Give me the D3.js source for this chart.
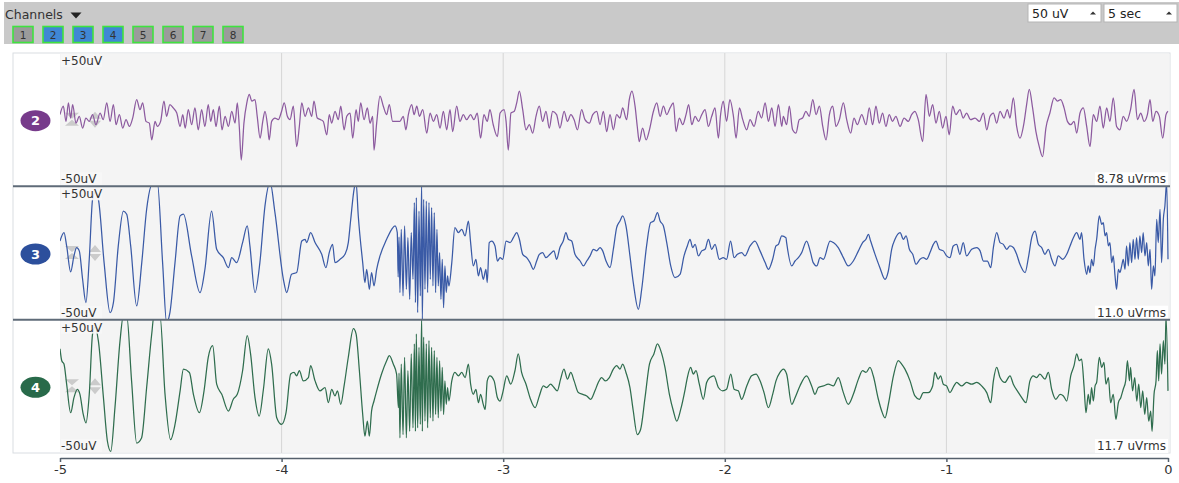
<!DOCTYPE html>
<html>
<head>
<meta charset="utf-8">
<script src="https://cdn.jsdelivr.net/npm/d3@7"></script>
<style>
  html, body { margin: 0; padding: 0; background: #ffffff; }
  svg { display: block; font-family: "DejaVu Sans", "Open Sans", sans-serif; }
</style>
</head>
<body>
<svg id="chart" width="1179" height="483"></svg>
<script>
// ---- data ---------------------------------------------------------------
const toggleChannels = [1, 2, 3, 4, 5, 6, 7, 8];
const activeChannels = [2, 3, 4];
const scaleOptions = ["50 uV", "5 sec"];
const channelIds = [2, 3, 4];
const rmsLabels = ["8.78 uVrms", "11.0 uVrms", "11.7 uVrms"];
const xTicks = [-5, -4, -3, -2, -1, 0];
const yRange = [-50, 50];

// [time (s), amplitude (uV)]
const ch2 = [
[-5.000,3.8],[-4.985,10.1],[-4.973,-1.3],[-4.962,12.6],[-4.952,1.2],[-4.943,11.3],[-4.928,-2.6],[-4.913,2.5],[-4.898,-6.3],[-4.883,1.2],[-4.868,-1.3],[-4.853,3.8],[-4.838,-3.8],[-4.819,5.0],[-4.805,0],[-4.789,12.6],[-4.774,-1.3],[-4.759,11.3],[-4.747,-3.8],[-4.732,3.8],[-4.717,-6.3],[-4.702,0],[-4.687,-5.1],[-4.672,1.2],[-4.654,15.1],[-4.639,7.5],[-4.627,12.6],[-4.612,-1.3],[-4.597,-2.6],[-4.586,-15.2],[-4.571,-1.3],[-4.561,-5.1],[-4.546,-1.3],[-4.531,13.9],[-4.519,2.5],[-4.504,11.3],[-4.489,8.8],[-4.473,5.0],[-4.458,-5.1],[-4.446,3.8],[-4.435,-6.3],[-4.421,7.5],[-4.406,-3.8],[-4.391,8.8],[-4.376,-7.6],[-4.361,7.5],[-4.346,-5.1],[-4.331,11.3],[-4.320,-1.3],[-4.308,7.5],[-4.296,-5.1],[-4.281,10.1],[-4.269,-7.6],[-4.255,2.5],[-4.240,-5.1],[-4.225,6.3],[-4.210,-2.6],[-4.200,12.6],[-4.191,-5.1],[-4.182,-30.3],[-4.170,-2.6],[-4.157,12.6],[-4.146,18.9],[-4.134,13.9],[-4.120,15.1],[-4.110,2.5],[-4.097,-13.9],[-4.085,-1.3],[-4.075,6.3],[-4.063,-5.1],[-4.056,-15.2],[-4.045,-1.3],[-4.030,1.2],[-4.015,0],[-4.000,6.3],[-3.988,12.6],[-3.974,2.5],[-3.962,0],[-3.947,10.1],[-3.932,-20.2],[-3.920,-5.1],[-3.909,12.6],[-3.894,2.5],[-3.879,8.8],[-3.864,2.5],[-3.854,13.9],[-3.839,1.2],[-3.824,0],[-3.812,-1.3],[-3.796,-11.4],[-3.785,3.8],[-3.774,-2.6],[-3.759,6.3],[-3.744,0],[-3.733,10.1],[-3.718,-7.6],[-3.706,2.5],[-3.691,5.0],[-3.679,-13.9],[-3.664,7.5],[-3.654,-1.3],[-3.643,12.6],[-3.628,0],[-3.613,8.8],[-3.601,-2.6],[-3.589,2.5],[-3.583,-22.8],[-3.571,-2.6],[-3.556,17.6],[-3.541,10.1],[-3.526,3.8],[-3.514,11.3],[-3.499,-1.3],
[-3.466,-1.3],[-3.451,2.5],[-3.439,-7.6],[-3.428,3.8],[-3.413,11.3],[-3.402,3.8],[-3.390,10.1],[-3.378,2.5],[-3.363,7.5],[-3.345,-10.1],[-3.330,5.0],[-3.315,-1.3],[-3.300,3.8],[-3.285,-6.3],[-3.270,6.3],[-3.255,-7.6],[-3.240,7.5],[-3.228,-8.9],[-3.210,10.1],[-3.195,-1.3],[-3.180,3.8],[-3.165,0],[-3.147,3.8],[-3.132,0],[-3.117,5.0],[-3.102,-13.9],[-3.087,3.8],[-3.072,-1.3],[-3.060,7.5],[-3.045,-3.8],[-3.026,-12.7],[-3.014,5.0],[-2.996,7.5],[-2.987,-1.3],[-2.977,-22.8],[-2.965,5.0],[-2.950,6.3],[-2.939,12.6],[-2.927,21.4],[-2.912,7.5],[-2.897,-7.6],[-2.882,-3.8],[-2.867,-10.1],[-2.852,2.5],[-2.837,10.1],[-2.822,-1.3],[-2.807,6.3],[-2.792,-6.3],[-2.777,6.3],[-2.759,3.8],[-2.744,-6.3],[-2.725,6.3],[-2.710,-1.3],[-2.695,3.8],[-2.680,0],[-2.665,-7.6],[-2.646,7.5],[-2.631,0],[-2.611,-2.6],[-2.596,3.8],[-2.578,6.3],[-2.563,-3.8],[-2.548,6.3],[-2.533,-8.9],[-2.518,3.8],[-2.503,-7.6],[-2.488,3.8],[-2.473,1.2],[-2.461,8.8],[-2.443,0],[-2.431,15.1],[-2.419,21.4],[-2.405,10.1],[-2.395,-5.1],[-2.386,-16.4],[-2.371,-6.3],[-2.355,-15.2],[-2.340,-7.6],[-2.322,6.3],[-2.307,12.6],[-2.292,2.5],[-2.277,10.1],[-2.262,3.8],[-2.247,8.8],[-2.232,12.6],[-2.220,-8.9],[-2.205,1.2],[-2.190,-3.8],[-2.175,3.8],[-2.163,11.3],[-2.149,-3.8],[-2.134,2.5],[-2.119,-1.3],[-2.104,3.8],[-2.089,7.5],[-2.074,-5.1],[-2.059,2.5],[-2.044,8.8],[-2.029,-13.9],[-2.019,3.8],[-2.007,13.9],[-1.992,-1.3],[-1.977,15.1],[-1.961,2.5],[-1.949,-13.9],[-1.934,8.8],[-1.919,0],[-1.901,-7.6],[-1.886,0],[-1.868,-5.1],[-1.849,6.3],[-1.834,1.2],[-1.818,12.6],[-1.803,-1.3],[-1.788,8.8],[-1.773,-5.1],[-1.758,11.3],[-1.743,-5.1],
[-1.736,2.5],[-1.721,-3.8],[-1.709,10.1],[-1.694,-7.6],[-1.679,-10.1],[-1.664,0],[-1.649,1.2],[-1.634,6.3],[-1.619,2.5],[-1.603,15.1],[-1.588,3.8],[-1.573,10.1],[-1.558,-5.1],[-1.543,-15.2],[-1.528,3.8],[-1.513,10.1],[-1.498,-5.1],[-1.483,0],[-1.465,12.6],[-1.450,0],[-1.432,-10.1],[-1.417,1.2],[-1.402,-3.8],[-1.382,3.8],[-1.363,-3.8],[-1.348,8.8],[-1.333,-3.8],[-1.318,10.1],[-1.303,-2.6],[-1.288,5.0],[-1.273,-5.1],[-1.258,3.8],[-1.243,-1.3],[-1.228,2.5],[-1.209,-5.1],[-1.191,1.2],[-1.172,-1.3],[-1.157,3.8],[-1.142,6.3],[-1.127,0],[-1.107,-16.4],[-1.092,18.9],[-1.077,2.5],[-1.062,11.3],[-1.047,-2.6],[-1.032,6.3],[-1.017,-6.3],[-1.002,2.5],[-0.987,-11.4],[-0.972,10.1],[-0.957,3.8],[-0.939,7.5],[-0.924,1.2],[-0.909,5.0],[-0.891,0],[-0.871,1.2],[-0.851,-1.3],[-0.833,5.0],[-0.818,-7.6],[-0.803,2.5],[-0.788,5.0],[-0.773,-2.6],[-0.758,6.3],[-0.740,1.2],[-0.725,7.5],[-0.713,1.2],[-0.698,16.4],[-0.683,-5.1],[-0.668,-13.9],[-0.650,-2.6],[-0.638,11.3],[-0.626,22.7],[-0.611,8.8],[-0.596,-8.9],[-0.581,-20.2],[-0.566,-27.8],[-0.551,-6.3],[-0.533,5.0],[-0.514,16.4],[-0.499,13.9],[-0.484,15.1],[-0.469,8.8],[-0.454,-1.3],[-0.439,-3.8],[-0.424,-1.3],[-0.412,-10.1],[-0.397,5.0],[-0.382,8.8],[-0.367,-5.1],[-0.352,-20.2],[-0.337,3.8],[-0.322,-1.3],[-0.307,10.1],[-0.292,-6.3],[-0.277,8.8],[-0.262,-1.3],[-0.247,16.4],[-0.232,-5.1],[-0.217,-7.6],[-0.202,2.5],[-0.187,-1.3],[-0.169,7.5],[-0.153,22.7],[-0.138,0],[-0.123,5.0],[-0.108,-1.3],[-0.093,3.8],[-0.081,15.1],[-0.069,-1.3],[-0.054,6.3],[-0.039,2.5],[-0.024,-13.9],[-0.009,3.8],[0.000,6.3]
];

const ch3 = [
[-5.000,9.0],[-4.982,15.3],[-4.970,5.3],[-4.952,-14.2],[-4.937,-2.2],[-4.925,4.1],[-4.913,1.6],[-4.898,-19.7],[-4.883,-37.2],[-4.868,-4.7],[-4.853,40.3],[-4.842,45.3],[-4.827,40.3],[-4.801,-7.2],[-4.774,-44.7],[-4.759,-37.2],[-4.737,5.3],[-4.714,31.5],[-4.699,29.1],[-4.681,5.3],[-4.654,-39.7],[-4.631,-7.2],[-4.609,32.8],[-4.579,53],[-4.561,53],[-4.537,-7.2],[-4.519,-52],[-4.504,-44.7],[-4.481,-7.2],[-4.458,27.8],[-4.443,29.1],[-4.406,-2.2],[-4.368,-29.7],[-4.346,-12.2],[-4.316,31.5],[-4.293,2.8],[-4.263,-3.5],[-4.240,-11.0],[-4.225,-3.5],[-4.203,-7.2],[-4.176,7.8],[-4.155,20.3],[-4.143,5.3],[-4.120,-29.7],[-4.098,-7.2],[-4.075,35.3],[-4.052,53],[-4.030,30.3],[-3.992,-19.7],[-3.977,-29.7],[-3.955,-16.0],[-3.932,-14.7],[-3.909,9.0],[-3.894,10.3],[-3.887,7.8],[-3.869,15.3],[-3.849,7.8],[-3.819,-1.0],[-3.800,-11.0],[-3.785,0.3],[-3.770,6.5],[-3.759,-7.2],[-3.736,-4.7],[-3.714,-1.0],[-3.699,7.8],[-3.688,25.3],[-3.673,47.8],[-3.664,53],[-3.654,27.8],[-3.634,-7.2],[-3.624,-22.2],[-3.616,-12.2],[-3.604,-27.2],[-3.594,-14.7],[-3.583,-24.7],[-3.571,-12.2],[-3.556,-2.2],[-3.526,10.3],[-3.503,17.8],[-3.488,20.3],[-3.478,15.3],[-3.474,-18.0],[-3.470,12.0],
[-3.466,-29.7],[-3.460,17.8],[-3.452,-32.2],[-3.445,20.3],[-3.437,-27.2],[-3.430,11.5],[-3.422,-34.7],[-3.415,15.3],[-3.407,-19.7],[-3.401,37.8],[-3.396,-37.2],[-3.392,41.5],[-3.386,-44.7],[-3.380,31.5],[-3.374,-32.2],[-3.368,53],[-3.365,-52],[-3.359,40.3],[-3.353,-27.2],[-3.347,39.0],[-3.341,-29.7],[-3.335,37.8],[-3.329,-19.7],[-3.323,34.0],[-3.317,-24.7],[-3.311,30.3],[-3.305,-29.7],[-3.299,17.8],[-3.293,-24.7],[-3.287,0.3],[-3.281,-34.7],[-3.275,-4.7],[-3.269,-41.0],[-3.263,-9.7],[-3.257,-29.7],[-3.251,-17.2],[-3.245,-24.7],
[-3.232,-7.2],[-3.218,19.0],[-3.202,15.3],[-3.187,17.8],[-3.172,12.8],[-3.157,24.0],[-3.147,7.8],[-3.135,-9.7],[-3.123,-4.7],[-3.112,-17.2],[-3.102,-11.0],[-3.090,-19.7],[-3.078,-12.2],[-3.072,-22.2],[-3.063,7.8],[-3.052,9.0],[-3.037,5.3],[-3.026,-6.0],[-3.014,-3.5],[-3.002,-4.7],[-2.987,9.0],[-2.969,7.8],[-2.954,11.5],[-2.939,15.3],[-2.927,10.3],[-2.912,-1.0],[-2.894,-3.5],[-2.879,-7.2],[-2.864,-12.2],[-2.849,-6.0],[-2.837,-1.0],[-2.822,0.3],[-2.807,-3.5],[-2.789,-1.0],[-2.771,1.6],[-2.759,-4.7],[-2.744,4.1],[-2.729,9.0],[-2.717,15.3],[-2.706,10.3],[-2.691,9.0],[-2.676,-1.0],[-2.653,-6.0],[-2.638,-9.7],[-2.623,-6.0],[-2.608,-2.2],[-2.593,2.8],[-2.578,1.6],[-2.563,4.1],[-2.551,1.6],[-2.536,-6.0],[-2.518,-11.0],[-2.503,2.8],[-2.488,19.0],[-2.473,24.0],[-2.461,27.8],[-2.446,20.3],[-2.428,-2.2],[-2.413,-22.2],[-2.390,-42.2],[-2.375,-27.2],[-2.353,5.3],[-2.335,22.8],[-2.320,24.0],[-2.304,30.3],[-2.292,24.0],[-2.277,20.3],[-2.262,7.8],[-2.244,-9.7],[-2.225,-18.5],[-2.202,-16.0],[-2.184,-2.2],[-2.169,5.3],[-2.157,10.3],[-2.145,4.1],[-2.134,6.5],[-2.119,-2.2],[-2.104,1.6],[-2.089,2.8],[-2.074,10.3],[-2.059,2.8],[-2.044,6.5],[-2.025,-4.7],[-2.007,-3.5],[-1.992,-4.7],[-1.974,9.0],[-1.958,-3.5],[-1.943,-1.0],[-1.924,0.3],[-1.909,-2.2],[-1.886,5.3],[-1.864,9.0],[-1.841,1.6],[-1.818,-7.2],[-1.803,-12.2],[-1.784,-4.7],[-1.769,5.3],[-1.758,6.5],[-1.743,12.8],[-1.724,11.5],
[-1.721,7.8],[-1.698,-9.7],[-1.683,-6.0],[-1.668,-3.5],[-1.653,0.3],[-1.631,9.0],[-1.613,0.3],[-1.601,-7.2],[-1.585,-9.7],[-1.570,-3.5],[-1.555,-4.7],[-1.525,9.0],[-1.510,7.8],[-1.488,4.1],[-1.465,-3.5],[-1.443,-9.7],[-1.420,-6.0],[-1.397,1.6],[-1.378,7.8],[-1.363,10.3],[-1.352,14.0],[-1.342,9.0],[-1.322,-1.0],[-1.300,-11.0],[-1.277,-19.7],[-1.262,-13.5],[-1.247,2.8],[-1.232,10.3],[-1.209,15.3],[-1.194,10.3],[-1.182,12.8],[-1.167,2.8],[-1.152,-1.0],[-1.137,-8.5],[-1.119,-4.7],[-1.104,-3.5],[-1.089,-4.7],[-1.074,0.3],[-1.059,6.5],[-1.047,9.0],[-1.032,2.8],[-1.014,1.6],[-0.999,-2.2],[-0.984,-3.5],[-0.969,5.3],[-0.954,6.5],[-0.939,-1.0],[-0.924,7.8],[-0.909,-2.2],[-0.886,2.8],[-0.863,4.1],[-0.848,1.6],[-0.833,-6.0],[-0.815,-6.0],[-0.800,-11.0],[-0.788,4.1],[-0.773,15.3],[-0.758,7.8],[-0.743,6.5],[-0.728,2.8],[-0.713,5.3],[-0.698,4.1],[-0.683,-1.0],[-0.668,-8.5],[-0.645,-14.7],[-0.630,-3.5],[-0.615,11.5],[-0.600,16.5],[-0.585,6.5],[-0.570,4.1],[-0.555,-1.0],[-0.540,2.8],[-0.525,-4.7],[-0.510,-9.7],[-0.495,-2.2],[-0.475,-4.7],[-0.457,-1.0],[-0.442,5.3],[-0.427,11.5],[-0.412,15.3],[-0.397,10.3],[-0.390,15.3],[-0.379,-4.7],[-0.367,-16.0],[-0.360,-9.7],[-0.352,-14.7],[-0.345,-4.7],[-0.337,-9.7],[-0.329,2.8],[-0.322,10.3],[-0.310,27.8],[-0.299,21.5],[-0.292,22.8],[-0.284,12.8],[-0.277,15.3],[-0.269,5.3],[-0.262,7.8],[-0.254,-7.2],[-0.247,-2.2],[-0.239,-17.2],[-0.232,-27.2],[-0.224,-12.2],[-0.217,-14.7],[-0.209,-9.7],[-0.202,-4.7],[-0.194,-12.2],[-0.187,5.3],[-0.179,-9.7],[-0.172,7.8],[-0.164,-7.2],[-0.157,10.3],[-0.149,-4.7],[-0.142,11.5],[-0.134,-4.7],[-0.127,12.8],[-0.119,0.3],[-0.112,15.3],[-0.104,-2.2],[-0.096,7.8],[-0.089,-9.7],[-0.081,2.8],[-0.074,-27.2],[-0.066,-9.7],[-0.059,-17.2],[-0.051,25.3],[-0.044,7.8],[-0.036,32.8],[-0.029,-7.2],[-0.021,25.3],[-0.014,35.3],[-0.006,53],[0.000,-4.7]
];

const ch4 = [
[-5.000,28.1],[-4.992,19.2],[-4.982,16.7],[-4.970,1.6],[-4.952,-19.8],[-4.937,-8.5],[-4.922,-2.2],[-4.910,-6.0],[-4.895,-21.1],[-4.883,-27.4],[-4.868,-6.0],[-4.853,39.4],[-4.842,44.4],[-4.827,34.3],[-4.804,-8.5],[-4.786,-41.2],[-4.771,-48.8],[-4.752,-16.0],[-4.729,34.3],[-4.714,53],[-4.699,53],[-4.677,4.1],[-4.654,-42.5],[-4.632,-38.7],[-4.609,-0.9],[-4.586,39.4],[-4.576,53],[-4.549,53],[-4.526,-6.0],[-4.501,-40.0],[-4.481,-28.6],[-4.458,-3.4],[-4.443,12.9],[-4.416,10.4],[-4.398,-6.0],[-4.371,-19.8],[-4.350,-3.4],[-4.331,21.8],[-4.311,30.6],[-4.293,1.6],[-4.270,-6.0],[-4.240,-18.5],[-4.218,-9.7],[-4.200,-6.0],[-4.176,11.7],[-4.155,38.1],[-4.140,24.3],[-4.120,-8.5],[-4.101,-22.3],[-4.082,-2.2],[-4.060,28.1],[-4.045,16.7],[-4.022,-23.6],[-4.000,-28.6],[-3.980,-19.8],[-3.959,9.2],[-3.944,10.4],[-3.932,7.9],[-3.920,11.7],[-3.902,4.1],[-3.879,6.6],[-3.869,15.5],[-3.849,4.1],[-3.827,-3.4],[-3.804,-0.9],[-3.789,-12.3],[-3.774,-2.2],[-3.759,-7.2],[-3.748,-3.4],[-3.733,-13.5],[-3.718,0.3],[-3.699,21.8],[-3.676,43.2],[-3.664,39.4],[-3.649,11.7],[-3.634,-21.1],[-3.624,-37.4],[-3.613,-26.1],[-3.604,-37.4],[-3.594,-18.5],[-3.583,-11.0],[-3.571,-3.4],[-3.549,9.2],[-3.526,19.2],[-3.514,23.0],[-3.496,16.7],[-3.481,9.2],[-3.473,-16.0],[-3.470,10.0],
[-3.466,-38.7],[-3.460,16.7],[-3.452,-36.2],[-3.445,21.8],[-3.437,-38.7],[-3.430,11.7],[-3.422,-33.7],[-3.415,24.3],[-3.407,-31.1],[-3.401,31.8],[-3.396,-33.7],[-3.392,39.4],[-3.386,-31.1],[-3.380,29.3],[-3.374,-28.6],[-3.368,53],[-3.365,-33.7],[-3.359,36.9],[-3.353,-26.1],[-3.347,31.8],[-3.341,-31.1],[-3.335,34.3],[-3.329,-23.6],[-3.323,29.3],[-3.317,-26.1],[-3.311,26.8],[-3.305,-21.1],[-3.299,21.8],[-3.293,-23.6],[-3.287,19.2],[-3.281,-18.5],[-3.275,14.2],[-3.269,-21.1],[-3.263,4.1],[-3.257,-13.5],[-3.251,-0.9],[-3.245,-11.0],
[-3.232,4.1],[-3.218,10.4],[-3.202,7.9],[-3.187,10.4],[-3.172,6.6],[-3.157,16.7],[-3.147,1.6],[-3.135,-6.0],[-3.123,-2.2],[-3.112,-12.3],[-3.102,-6.0],[-3.090,-13.5],[-3.081,-17.3],[-3.072,4.1],[-3.060,7.9],[-3.041,4.1],[-3.026,-8.5],[-3.014,-11.0],[-3.002,-4.7],[-2.984,7.9],[-2.966,1.6],[-2.947,11.7],[-2.932,24.3],[-2.917,10.4],[-2.897,1.6],[-2.879,-8.5],[-2.856,-16.0],[-2.837,-7.2],[-2.819,0.3],[-2.804,-0.9],[-2.786,1.6],[-2.771,-0.9],[-2.756,-3.4],[-2.741,5.4],[-2.726,12.9],[-2.710,5.4],[-2.695,10.4],[-2.680,4.1],[-2.661,-4.7],[-2.641,-6.0],[-2.623,-7.2],[-2.605,-9.7],[-2.586,-3.4],[-2.571,2.9],[-2.556,6.6],[-2.540,4.1],[-2.521,6.6],[-2.503,12.9],[-2.488,15.5],[-2.473,12.9],[-2.461,16.7],[-2.446,10.4],[-2.428,-0.9],[-2.413,-18.5],[-2.395,-36.2],[-2.380,-32.4],[-2.360,-8.5],[-2.340,16.7],[-2.320,24.3],[-2.304,31.8],[-2.289,26.8],[-2.270,14.2],[-2.250,-6.0],[-2.232,-18.5],[-2.217,-26.1],[-2.199,-17.3],[-2.179,-2.2],[-2.169,6.6],[-2.154,14.2],[-2.142,9.2],[-2.130,11.7],[-2.115,1.6],[-2.097,-9.7],[-2.082,2.9],[-2.067,6.6],[-2.049,7.9],[-2.029,-0.9],[-2.010,-3.4],[-1.992,-2.2],[-1.973,9.2],[-1.958,-2.2],[-1.939,-3.4],[-1.924,-9.7],[-1.901,0.3],[-1.879,7.9],[-1.859,9.2],[-1.841,4.1],[-1.823,-4.7],[-1.803,-16.0],[-1.784,-6.0],[-1.769,4.1],[-1.751,10.4],[-1.736,12.9],[-1.721,9.2],
[-1.698,-13.5],[-1.683,-8.5],[-1.661,0.3],[-1.631,7.9],[-1.608,0.3],[-1.593,-6.0],[-1.578,-0.9],[-1.555,0.3],[-1.533,1.6],[-1.510,0.3],[-1.488,6.6],[-1.465,-4.7],[-1.443,-13.5],[-1.420,-6.0],[-1.397,5.4],[-1.378,11.7],[-1.363,10.4],[-1.345,14.2],[-1.330,7.9],[-1.307,-9.7],[-1.292,-18.5],[-1.277,-23.6],[-1.262,-13.5],[-1.239,7.9],[-1.217,19.2],[-1.202,16.7],[-1.187,12.9],[-1.164,4.1],[-1.142,-7.2],[-1.122,-9.7],[-1.104,-4.7],[-1.082,-4.7],[-1.062,0.3],[-1.052,10.4],[-1.037,5.4],[-1.026,7.9],[-1.014,1.6],[-0.999,0.3],[-0.984,-4.7],[-0.966,0.3],[-0.954,2.9],[-0.931,0.3],[-0.909,2.9],[-0.886,1.6],[-0.863,2.9],[-0.841,0.3],[-0.818,-4.7],[-0.800,-12.3],[-0.788,4.1],[-0.773,14.2],[-0.758,6.6],[-0.736,2.9],[-0.713,7.9],[-0.698,1.6],[-0.675,-4.7],[-0.660,-8.5],[-0.641,-12.3],[-0.623,4.1],[-0.608,7.9],[-0.593,6.6],[-0.578,9.2],[-0.555,5.4],[-0.540,10.4],[-0.525,-2.2],[-0.506,-9.7],[-0.487,-6.0],[-0.472,-7.2],[-0.457,-11.0],[-0.439,7.9],[-0.424,15.5],[-0.412,24.3],[-0.400,19.2],[-0.390,20.5],[-0.379,0.3],[-0.370,-19.8],[-0.360,-6.0],[-0.352,-13.5],[-0.345,-0.9],[-0.337,-11.0],[-0.329,0.3],[-0.322,2.9],[-0.310,21.8],[-0.299,14.2],[-0.289,18.0],[-0.280,1.6],[-0.269,6.6],[-0.259,-12.3],[-0.247,-6.0],[-0.235,-24.8],[-0.224,-12.3],[-0.213,-8.5],[-0.202,-2.2],[-0.191,4.1],[-0.183,19.2],[-0.174,4.1],[-0.169,14.2],[-0.160,-3.4],[-0.150,6.6],[-0.141,-11.0],[-0.132,1.6],[-0.123,-16.0],[-0.114,-3.4],[-0.105,-21.1],[-0.096,-8.5],[-0.087,-26.1],[-0.078,-18.5],[-0.072,-33.7],[-0.063,-6.0],[-0.054,4.1],[-0.048,26.8],[-0.042,4.1],[-0.036,31.8],[-0.029,9.2],[-0.021,34.3],[-0.014,16.7],[-0.009,53],[0.000,-3.4]
];

const traces = [ch2, ch3, ch4];

// ---- styles -------------------------------------------------------------
const lineColors = ["#8c5a9f", "#3a5aa6", "#2f6d4e"];
const badgeColors = ["#773b8b", "#2c4f9c", "#286a4a"];

// ---- layout -------------------------------------------------------------
const svg = d3.select("#chart");
const frame = { left: 13, right: 1170, top: 53, bottom: 453 };
const plotLeft = 60, plotRight = 1168;
const panelH = (frame.bottom - frame.top) / channelIds.length;

const x = d3.scaleLinear().domain([xTicks[0], xTicks[xTicks.length - 1]]).range([plotLeft, plotRight]);

// toolbar
svg.append("rect").attr("x", 4).attr("y", 2).attr("width", 1175).attr("height", 42).attr("fill", "#c9c9c9");
svg.append("text").attr("x", 5).attr("y", 18.5).attr("font-size", 12.5).attr("fill", "#333").text("Channels");
svg.append("path").attr("d", "M70.5,12.5 L81.5,12.5 L76,18.5 Z").attr("fill", "#222");

const btn = svg.append("g").selectAll("g").data(toggleChannels).join("g")
  .attr("transform", (d, i) => `translate(${13 + i * 30},26.5)`);
btn.append("rect").attr("width", 20).attr("height", 16)
  .attr("fill", d => activeChannels.includes(d) ? "#3f87d4" : "#9b9b9b")
  .attr("stroke", "#3fe33f").attr("stroke-width", 1.6);
btn.append("text").attr("x", 10).attr("y", 12.5).attr("text-anchor", "middle")
  .attr("font-size", 10.5).attr("fill", "#333").text(d => d);

const dd = svg.append("g").selectAll("g").data(scaleOptions).join("g")
  .attr("transform", (d, i) => `translate(${1028 + i * 76},4)`);
dd.append("rect").attr("width", 73).attr("height", 18).attr("fill", "#fff").attr("stroke", "#b5b5b5");
dd.append("text").attr("x", 4).attr("y", 14).attr("font-size", 12.5).attr("fill", "#222").text(d => d);
dd.append("path").attr("d", "M62,10.5 L68,10.5 L65,7.5 Z").attr("fill", "#333");

// plot frame
svg.append("rect").attr("x", frame.left).attr("y", frame.top)
  .attr("width", frame.right - frame.left).attr("height", frame.bottom - frame.top)
  .attr("fill", "#ffffff").attr("stroke", "#d9dde2");
svg.append("rect").attr("x", plotLeft).attr("y", frame.top + 0.5)
  .attr("width", frame.right - plotLeft - 0.5).attr("height", frame.bottom - frame.top - 1)
  .attr("fill", "#f4f4f4");

// vertical grid
svg.append("g").selectAll("line").data(xTicks.slice(1, -1)).join("line")
  .attr("x1", d => x(d)).attr("x2", d => x(d))
  .attr("y1", frame.top).attr("y2", frame.bottom)
  .attr("stroke", "#d6d6d6").attr("stroke-width", 1);

const defs = svg.append("defs");

channelIds.forEach((ch, i) => {
  const top = frame.top + i * panelH;
  const bottom = top + panelH;
  const mid = (top + bottom) / 2;
  const y = d3.scaleLinear().domain(yRange).range([bottom, top]);

  defs.append("clipPath").attr("id", "clip" + ch)
    .append("rect").attr("x", plotLeft).attr("y", top).attr("width", plotRight - plotLeft + 1).attr("height", panelH);

  const g = svg.append("g");

  // grey drag handles
  const hg = g.append("g").attr("fill", "#c4c4c4").attr("opacity", 0.85);
  hg.append("path").attr("d", `M65,${mid - 7} L79,${mid - 7} L72,${mid - 1} Z M65,${mid + 6} L79,${mid + 6} L72,${mid} Z`);
  hg.append("path").attr("d", `M89,${mid - 1} L101,${mid - 1} L95,${mid - 8} Z M89,${mid + 1} L101,${mid + 1} L95,${mid + 8} Z`);

  // trace
  const line = d3.line().curve(d3.curveMonotoneX).x(d => x(d[0])).y(d => y(d[1]));
  g.append("path").datum(traces[i])
    .attr("clip-path", `url(#clip${ch})`)
    .attr("fill", "none").attr("stroke", lineColors[i])
    .attr("stroke-width", 1.25).attr("stroke-linejoin", "round")
    .attr("d", line);

  // scale labels
  const lab = g.append("g").attr("font-size", 12).attr("fill", "#333");
  lab.append("rect").attr("x", plotLeft + 1).attr("y", top + 1).attr("width", 41).attr("height", 13).attr("fill", "#f7f7f7").attr("opacity", 0.9);
  lab.append("text").attr("x", plotLeft + 1).attr("y", top + 12).text("+" + yRange[1] + "uV");
  lab.append("rect").attr("x", plotLeft + 1).attr("y", bottom - 14).attr("width", 41).attr("height", 13).attr("fill", "#f7f7f7").attr("opacity", 0.9);
  lab.append("text").attr("x", plotLeft + 1).attr("y", bottom - 3).text(yRange[0] + "uV");

  // rms readout on a white backing
  const rg = g.append("g");
  const rbg = rg.append("rect").attr("fill", "#ffffff");
  const rt = rg.append("text").attr("x", plotRight - 2).attr("y", bottom - 3)
    .attr("text-anchor", "end").attr("font-size", 12).attr("fill", "#333").text(rmsLabels[i]);
  const bb = rt.node().getBBox();
  rbg.attr("x", bb.x - 2).attr("y", bb.y).attr("width", bb.width + 4).attr("height", bb.height);

  // channel badge
  g.append("ellipse").attr("cx", 35.5).attr("cy", mid + 1).attr("rx", 15).attr("ry", 10.5).attr("fill", badgeColors[i]);
  g.append("text").attr("x", 35.5).attr("y", mid + 5.5).attr("text-anchor", "middle")
    .attr("font-size", 13).attr("font-weight", "bold").attr("fill", "#fff").text(ch);
});

// panel separators
svg.append("g").selectAll("line").data(d3.range(1, channelIds.length)).join("line")
  .attr("x1", frame.left).attr("x2", frame.right)
  .attr("y1", d => frame.top + d * panelH).attr("y2", d => frame.top + d * panelH)
  .attr("stroke", "#5f6b78").attr("stroke-width", 2);

// time axis
const axis = svg.append("g").attr("transform", `translate(0,${frame.bottom + 5})`)
  .call(d3.axisBottom(x).tickValues(xTicks).tickSize(4).tickSizeOuter(0).tickFormat(d => String(d)));
axis.select(".domain").attr("stroke", "#55606c").attr("stroke-width", 1.5);
axis.selectAll(".tick line").attr("stroke", "#55606c").attr("stroke-width", 1.5);
axis.selectAll(".tick text").attr("font-size", 13).attr("fill", "#333")
  .attr("font-family", "\"DejaVu Sans\", \"Open Sans\", sans-serif");
</script>
</body>
</html>
